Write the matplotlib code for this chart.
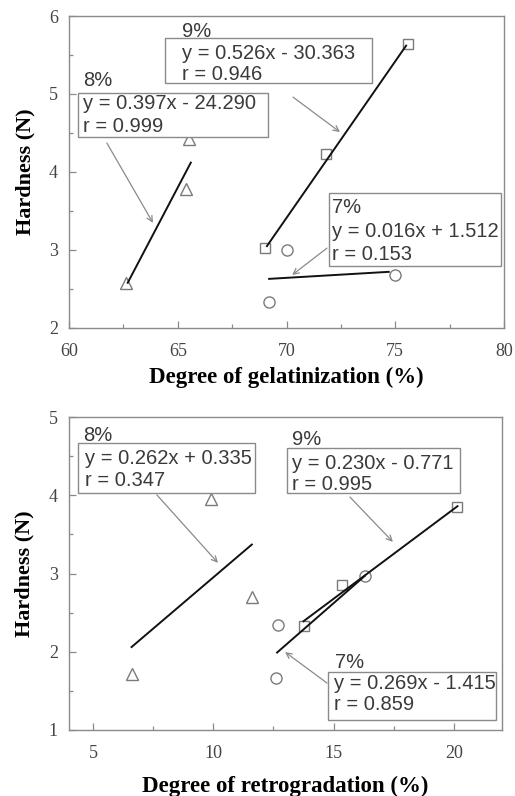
import matplotlib
matplotlib.use("Agg")
import matplotlib.pyplot as plt
from matplotlib.patches import Rectangle

# ---- data: gelatinization (top) ----
gel_x_7 = [70.0, 69.2, 75.0]
gel_y_7 = [3.00, 2.33, 2.68]
gel_x_8 = [62.6, 65.5, 65.4]
gel_y_8 = [2.58, 4.42, 3.78]
gel_x_9 = [69.0, 71.8, 75.6]
gel_y_9 = [3.03, 4.23, 5.64]
# fitted lines (end points)
gel_fit_7 = ([69.2, 74.7], [2.63, 2.72])
gel_fit_8 = ([62.7, 65.6], [2.58, 4.12])
gel_fit_9 = ([69.1, 75.5], [3.05, 5.62])

# ---- data: retrogradation (bottom) ----
ret_x_7 = [12.7, 12.6, 16.3]
ret_y_7 = [2.34, 1.66, 2.97]
ret_x_8 = [6.6, 9.9, 11.6]
ret_y_8 = [1.72, 3.95, 2.70]
ret_x_9 = [13.75, 15.35, 20.15]
ret_y_9 = [2.33, 2.85, 3.85]
ret_fit_7 = ([12.65, 16.3], [1.99, 2.97])
ret_fit_8 = ([6.6, 11.6], [2.06, 3.37])
ret_fit_9 = ([13.75, 20.15], [2.39, 3.86])

gel_notes = [
    ("9%", "y = 0.526x - 30.363", "r = 0.946"),
    ("8%", "y = 0.397x - 24.290", "r = 0.999"),
    ("7%", "y = 0.016x + 1.512", "r = 0.153"),
]
ret_notes = [
    ("8%", "y = 0.262x + 0.335", "r = 0.347"),
    ("9%", "y = 0.230x - 0.771", "r = 0.995"),
    ("7%", "y = 0.269x - 1.415", "r = 0.859"),
]

W, H = 515, 796
fig = plt.figure(figsize=(W / 100, H / 100), dpi=100)

GRAY = "#8a8a8a"
MK = "#7a7a7a"
TXT = "#3a3a3a"
serif = ["Liberation Serif", "DejaVu Serif"]
sans = ["Liberation Sans", "DejaVu Sans"]


def px_axes(l, r, t, b):
    return fig.add_axes([l / W, 1 - b / H, (r - l) / W, (b - t) / H])


def style(ax, xlim, ylim, xmaj, xmin, ymaj, ymin, xlabel, xpad):
    ax.set_xlim(*xlim)
    ax.set_ylim(*ylim)
    ax.set_xticks(xmaj)
    ax.set_xticks(xmin, minor=True)
    ax.set_yticks(ymaj)
    ax.set_yticks(ymin, minor=True)
    for s in ax.spines.values():
        s.set_color(GRAY)
        s.set_linewidth(1.0)
    ax.tick_params(which="both", direction="in", color=GRAY, width=0.9)
    ax.tick_params(which="major", length=5)
    ax.tick_params(which="minor", length=3)
    ax.tick_params(axis="x", pad=11)
    ax.tick_params(axis="y", pad=8)
    for lab in ax.get_xticklabels() + ax.get_yticklabels():
        lab.set_fontfamily(serif)
        lab.set_fontsize(13)
        lab.set_color("#444444")
    ax.set_xlabel(xlabel, family=serif, fontsize=16.5, fontweight="bold", labelpad=xpad)
    ax.set_ylabel("Hardness (N)", family=serif, fontsize=16, fontweight="bold", labelpad=10)


def points(ax, x, y, m, s):
    ax.plot(x, y, linestyle="none", marker=m, markersize=s, markerfacecolor="none",
            markeredgecolor=MK, markeredgewidth=1.0, zorder=3)


def fit(ax, xy):
    ax.plot(xy[0], xy[1], color="#111111", linewidth=1.4, zorder=4)


def note(ax, head, eq, r, box, head_xy, eq_y, r_y, tx, arrow):
    x0, x1, y0, y1 = box
    ax.add_patch(Rectangle((x0, y0), x1 - x0, y1 - y0, transform=ax.transAxes,
                           fill=True, facecolor="white", edgecolor=GRAY, linewidth=1.0,
                           zorder=5, clip_on=False))
    kw = dict(transform=ax.transAxes, family=sans, fontsize=14.5, color=TXT,
              ha="left", va="center", zorder=6)
    ax.text(head_xy[0], head_xy[1], head, **kw)
    ax.text(tx, eq_y, eq, **kw)
    ax.text(tx, r_y, r, **kw)
    ax.annotate("", xy=arrow[1], xytext=arrow[0], xycoords="axes fraction",
                textcoords="axes fraction",
                arrowprops=dict(arrowstyle="->", color=GRAY, lw=0.9,
                                mutation_scale=10, shrinkA=0, shrinkB=0))


# ---------- top: gelatinization ----------
ax1 = px_axes(69, 504, 16, 328)
points(ax1, gel_x_7, gel_y_7, "o", 8)
points(ax1, gel_x_8, gel_y_8, "^", 8)
points(ax1, gel_x_9, gel_y_9, "s", 7)
fit(ax1, gel_fit_7)
fit(ax1, gel_fit_8)
fit(ax1, gel_fit_9)
style(ax1, (60, 80), (2, 6), [60, 65, 70, 75, 80], [62.5, 67.5, 72.5, 77.5],
      [2, 3, 4, 5, 6], [2.5, 3.5, 4.5, 5.5], "Degree of gelatinization (%)", 5)

note(ax1, *gel_notes[0], box=(0.221, 0.697, 0.785, 0.929), head_xy=(0.260, 0.949),
     eq_y=0.881, r_y=0.811, tx=0.260, arrow=((0.515, 0.740), (0.623, 0.628)))
note(ax1, *gel_notes[1], box=(0.021, 0.457, 0.612, 0.753), head_xy=(0.032, 0.792),
     eq_y=0.721, r_y=0.647, tx=0.032, arrow=((0.087, 0.593), (0.193, 0.337)))
note(ax1, *gel_notes[2], box=(0.598, 0.993, 0.199, 0.433), head_xy=(0.605, 0.385),
     eq_y=0.308, r_y=0.234, tx=0.605, arrow=((0.593, 0.256), (0.513, 0.170)))

# ---------- bottom: retrogradation ----------
ax2 = px_axes(69, 502, 417, 730)
points(ax2, ret_x_7, ret_y_7, "o", 8)
points(ax2, ret_x_8, ret_y_8, "^", 8)
points(ax2, ret_x_9, ret_y_9, "s", 7)
fit(ax2, ret_fit_7)
fit(ax2, ret_fit_8)
fit(ax2, ret_fit_9)
style(ax2, (4, 22), (1, 5), [5, 10, 15, 20], [7.5, 12.5, 17.5],
      [1, 2, 3, 4, 5], [1.5, 2.5, 3.5, 4.5], "Degree of retrogradation (%)", 10)

note(ax2, *ret_notes[0], box=(0.021, 0.430, 0.757, 0.917), head_xy=(0.032, 0.942),
     eq_y=0.869, r_y=0.796, tx=0.037, arrow=((0.203, 0.751), (0.344, 0.534)))
note(ax2, *ret_notes[1], box=(0.503, 0.903, 0.757, 0.901), head_xy=(0.515, 0.927),
     eq_y=0.853, r_y=0.783, tx=0.515, arrow=((0.649, 0.744), (0.748, 0.601)))
note(ax2, *ret_notes[2], box=(0.598, 0.986, 0.032, 0.185), head_xy=(0.614, 0.217),
     eq_y=0.150, r_y=0.080, tx=0.612, arrow=((0.596, 0.150), (0.499, 0.249)))

fig.savefig("out.png", dpi=100)
